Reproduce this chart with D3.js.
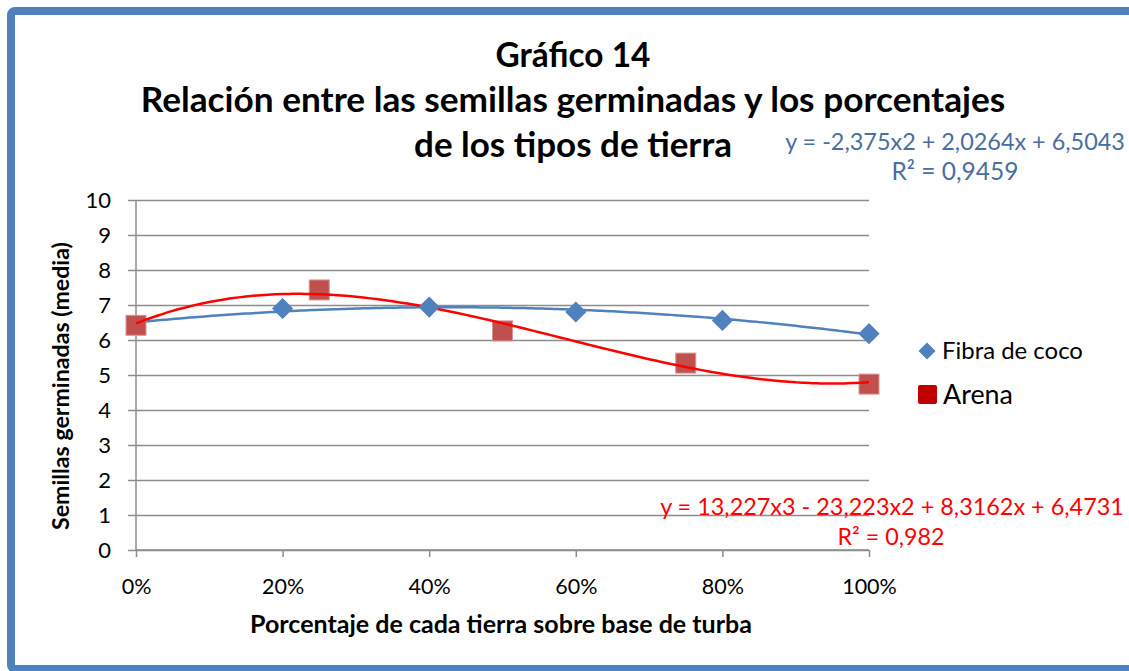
<!DOCTYPE html>
<html>
<head>
<meta charset="utf-8">
<script src="https://cdn.jsdelivr.net/npm/d3@7"></script>
<style>
  body { margin: 0; background: #fff; }
  svg text { font-family: Lato, "Open Sans", sans-serif; }
</style>
</head>
<body>
<div id="chart"></div>
<script>
// data
const fibraX = [0, 0.2, 0.4, 0.6, 0.8, 1.0];
const fibraY = [6.5, 6.9, 6.94, 6.8, 6.56, 6.18];
const arenaX = [0, 0.25, 0.5, 0.75, 1.0];
const arenaY = [6.42, 7.43, 6.26, 5.34, 4.74];
// trendline coefficients shown on the chart (constant first)
const fibraCoef = [6.5043, 2.0264, -2.375];
const arenaCoef = [6.4731, 8.3162, -23.223, 13.227];
const yTicks = [0, 1, 2, 3, 4, 5, 6, 7, 8, 9, 10];
const xTicks = [0, 0.2, 0.4, 0.6, 0.8, 1.0];

let svgWidth = 1129, svgHeight = 671;
let margin = {top: 200, left: 136, right: 260, bottom: 121};
let chartWidth = svgWidth - margin.left - margin.right;   // 733
let chartHeight = svgHeight - margin.top - margin.bottom; // 350

let svg = d3.select('#chart').append('svg')
  .attr('width', svgWidth).attr('height', svgHeight);

// scale a text's font size so it spans the wanted width
function fit(sel, w) {
  sel.each(function() {
    let fs = +this.getAttribute('font-size');
    let cur = this.getComputedTextLength();
    this.setAttribute('font-size', (fs * w / cur).toFixed(2));
  });
  return sel;
}

// outer frame (cut off on the right and bottom)
svg.append('rect')
  .attr('x', 11).attr('y', 11)
  .attr('width', 1140).attr('height', 658)
  .attr('rx', 4)
  .attr('fill', 'none').attr('stroke', '#4f81bd').attr('stroke-width', 8);

let g = svg.append('g').attr('transform', `translate(${margin.left},${margin.top})`);

let x = d3.scaleLinear().domain([0, 1]).range([0, chartWidth]);
let y = d3.scaleLinear().domain([0, 10]).range([chartHeight, 0]);

// grid lines
g.append('g')
  .call(d3.axisLeft(y).tickValues(yTicks).tickSize(-chartWidth).tickFormat(''))
  .call(a => a.select('.domain').remove())
  .selectAll('line').attr('stroke', '#8c8c8c').attr('stroke-width', 1.5);

// y axis
let yAxis = g.append('g')
  .call(d3.axisLeft(y).tickValues(yTicks).tickSize(8).tickPadding(17));
yAxis.select('.domain').attr('stroke', '#8c8c8c').attr('stroke-width', 1.5).attr('d', `M0,0V${chartHeight}`);
yAxis.selectAll('line').attr('stroke', '#8c8c8c').attr('stroke-width', 1.5);
yAxis.selectAll('text').attr('font-size', 22).attr('fill', '#000');

// x axis
let xAxis = g.append('g').attr('transform', `translate(0,${chartHeight})`)
  .call(d3.axisBottom(x).tickValues(xTicks).tickSize(7).tickPadding(22).tickFormat(d3.format('.0%')));
xAxis.select('.domain').attr('stroke', '#8c8c8c').attr('stroke-width', 1.5).attr('d', `M0,0H${chartWidth}`);
xAxis.selectAll('line').attr('stroke', '#8c8c8c').attr('stroke-width', 1.5);
xAxis.selectAll('text').attr('font-size', 21.5).attr('fill', '#000');

// trendlines
const poly = (c, v) => c.reduce((s, k, i) => s + k * Math.pow(v, i), 0);
const samples = d3.range(0, 1.0001, 0.01);
let line = d3.line().x(d => x(d[0])).y(d => y(d[1])).curve(d3.curveBasis);

g.append('path')
  .datum(samples.map(v => [v, poly(fibraCoef, v)]))
  .attr('d', line).attr('fill', 'none').attr('stroke', '#4f81bd').attr('stroke-width', 2.5);

// markers
g.selectAll('.arena').data(arenaX).enter().append('rect')
  .attr('class', 'arena')
  .attr('x', (d, i) => x(d) - 10).attr('y', (d, i) => y(arenaY[i]) - 10)
  .attr('width', 20).attr('height', 20)
  .attr('fill', '#c0504d').attr('stroke', '#d99594').attr('stroke-width', 1);

g.append('path')
  .datum(samples.map(v => [v, poly(arenaCoef, v)]))
  .attr('d', line).attr('fill', 'none').attr('stroke', '#ff0000').attr('stroke-width', 2.5);

g.selectAll('.fibra').data(fibraX.slice(1)).enter().append('path')
  .attr('class', 'fibra')
  .attr('transform', (d, i) => `translate(${x(d)},${y(fibraY[i + 1])}) rotate(45)`)
  .attr('d', 'M-7.5,-7.5H7.5V7.5H-7.5Z')
  .attr('fill', '#4f81bd');

// titles
const titleLines = [['Gráfico 14', 67, 155], ['Relación entre las semillas germinadas y los porcentajes', 112, 865], ['de los tipos de tierra', 157, 318]];
titleLines.forEach(t => {
  svg.append('text')
    .attr('x', 573).attr('y', t[1])
    .attr('text-anchor', 'middle').attr('font-size', 30).attr('font-weight', 'bold')
    .text(t[0]).call(fit, t[2]);
});

svg.append('text')
  .attr('transform', 'translate(69,386) rotate(-90)')
  .attr('text-anchor', 'middle').attr('font-size', 19).attr('font-weight', 'bold')
  .text('Semillas germinadas (media)').call(fit, 288);

svg.append('text')
  .attr('x', 501).attr('y', 633)
  .attr('text-anchor', 'middle').attr('font-size', 19).attr('font-weight', 'bold')
  .text('Porcentaje de cada tierra sobre base de turba').call(fit, 502);

// equations
svg.append('text').attr('x', 955).attr('y', 150).attr('text-anchor', 'middle')
  .attr('font-size', 20).attr('fill', '#4a6e9e').text('y = -2,375x2 + 2,0264x + 6,5043').call(fit, 340);
svg.append('text').attr('x', 955).attr('y', 180).attr('text-anchor', 'middle')
  .attr('font-size', 20).attr('fill', '#4a6e9e').text('R² = 0,9459').call(fit, 127);
svg.append('text').attr('x', 892).attr('y', 515).attr('text-anchor', 'middle')
  .attr('font-size', 20).attr('fill', '#ff0000').text('y = 13,227x3 - 23,223x2 + 8,3162x + 6,4731').call(fit, 464);
svg.append('text').attr('x', 891).attr('y', 545).attr('text-anchor', 'middle')
  .attr('font-size', 20).attr('fill', '#ff0000').text('R² = 0,982').call(fit, 107);

// legend
let legend = svg.append('g');
legend.append('path').attr('transform', 'translate(927,351) rotate(45)')
  .attr('d', 'M-6,-6H6V6H-6Z').attr('fill', '#4f81bd');
legend.append('text').attr('x', 942).attr('y', 359).attr('font-size', 21).text('Fibra de coco').call(fit, 141);
legend.append('rect').attr('x', 918).attr('y', 385).attr('width', 19).attr('height', 19).attr('rx', 2)
  .attr('fill', '#c00000');
legend.append('text').attr('x', 943).attr('y', 404).attr('font-size', 23).text('Arena').call(fit, 70);
</script>
</body>
</html>
